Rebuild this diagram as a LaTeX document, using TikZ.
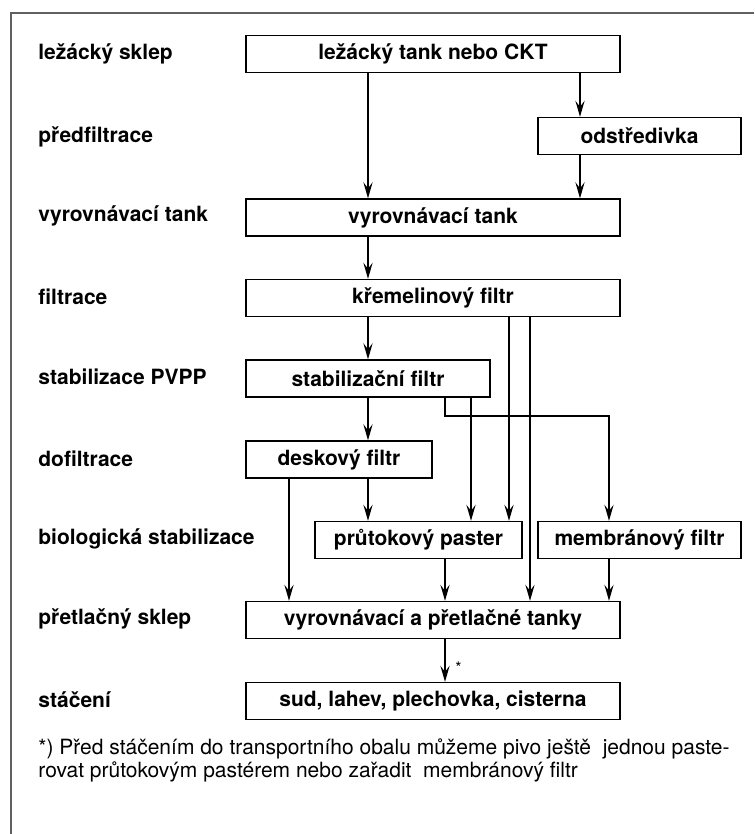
\documentclass[tikz,border=0pt]{standalone}
\usepackage{fontspec}
\setmainfont{TeX Gyre Heros}
\usetikzlibrary{arrows.meta}
\definecolor{framegray}{HTML}{606060}

\tikzset{
  box/.style={draw, line width=0.7pt, minimum height=18.5pt, inner sep=0pt,
    font=\bfseries\fontsize{10.5}{12}\selectfont},
  stage/.style={anchor=west, inner sep=0pt, font=\bfseries\fontsize{10.5}{12}\selectfont},
  flow/.style={-{Stealth[length=8pt,width=4.6pt,inset=3pt]}, line width=0.6pt}
}

\begin{document}
\begin{tikzpicture}[x=0.5pt,y=-0.5pt]
\useasboundingbox (0,0) rectangle (754,834);
\draw[framegray, line width=0.9pt] (11,834) -- (11,13) -- (754,13);

% stages on the left
\node[stage] (s1) at (38,54) {ležácký sklep};
\node[stage] (s2) at (38,137) {předfiltrace};
\node[stage] (s3) at (38,216) {vyrovnávací tank};
\node[stage] (s4) at (38,297) {filtrace};
\node[stage] (s5) at (38,377) {stabilizace PVPP};
\node[stage] (s6) at (38,459) {dofiltrace};
\node[stage] (s7) at (38,539) {biologická stabilizace};
\node[stage] (s8) at (38,619) {přetlačný sklep};
\node[stage] (s9) at (38,700) {stáčení};

% equipment
\node[box, minimum width=187pt] (tank) at (433,54) {ležácký tank nebo CKT};
\node[box, minimum width=101.5pt] (odstr) at (639.5,136) {odstředivka};
\node[box, minimum width=187pt] (vyr) at (433,217.5) {vyrovnávací tank};
\node[box, minimum width=187pt] (kreme) at (433,298) {křemelinový filtr};
\node[box, minimum width=122pt] (stab) at (368,378.5) {stabilizační filtr};
\node[box, minimum width=93pt] (desk) at (339,459.5) {deskový filtr};
\node[box, minimum width=103.5pt] (prut) at (418.5,540) {průtokový paster};
\node[box, minimum width=101.5pt] (memb) at (639.5,540) {membránový filtr};
\node[box, minimum width=187pt] (pretl) at (433,620) {vyrovnávací a přetlačné tanky};
\node[box, minimum width=187pt] (stac) at (433,701) {sud, lahev, plechovka, cisterna};

% columns of the connectors
\coordinate (xa) at (289,0);
\coordinate (xb) at (368,0);
\coordinate (xc) at (445,0);
\coordinate (xd) at (471,0);
\coordinate (xe) at (509,0);
\coordinate (xf) at (530,0);
\coordinate (xg) at (580,0);
\coordinate (xh) at (609,0);
\coordinate (bend) at (0,416);

\draw[flow] (tank.south -| xb) -- (vyr.north -| xb);
\draw[flow] (tank.south -| xg) -- (odstr.north -| xg);
\draw[flow] (odstr.south -| xg) -- (vyr.north -| xg);
\draw[flow] (vyr.south -| xb) -- (kreme.north -| xb);
\draw[flow] (kreme.south -| xb) -- (stab.north -| xb);
\draw[flow] (stab.south -| xb) -- (desk.north -| xb);
\draw[flow] (desk.south -| xb) -- (prut.north -| xb);
\draw[flow] (desk.south -| xa) -- (pretl.north -| xa);
\draw[flow] (stab.south -| xd) -- (prut.north -| xd);
\draw[flow] (stab.south -| xc) -- (bend -| xc) -- (bend -| xh) -- (memb.north -| xh);
\draw[flow] (kreme.south -| xe) -- (prut.north -| xe);
\draw[flow] (kreme.south -| xf) -- (pretl.north -| xf);
\draw[flow] (prut.south -| xc) -- (pretl.north -| xc);
\draw[flow] (memb.south -| xh) -- (pretl.north -| xh);
\draw[flow] (pretl.south -| xc) -- (stac.north -| xc);
\node[anchor=west, inner sep=0pt, font=\fontsize{8}{8}\selectfont] (star) at (455,668) {*};

\node[anchor=north west, inner sep=0pt, align=left, font=\fontsize{10.5}{11.5}\selectfont] (note) at (38,738)
  {*) Před stáčením do transportního obalu můžeme pivo ještě\ \ jednou paste-\\
   rovat průtokovým pastérem nebo zařadit\ \ membránový filtr};
\end{tikzpicture}
\end{document}
